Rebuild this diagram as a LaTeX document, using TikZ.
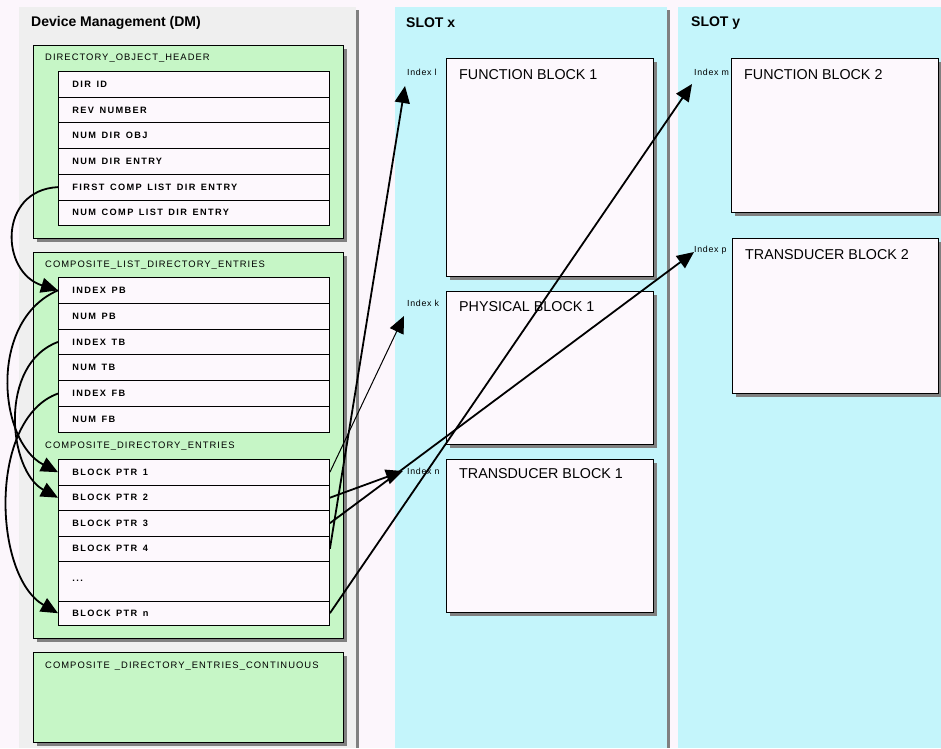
\documentclass[tikz,border=0pt]{standalone}
\usepackage{fontspec}
\setmainfont{Liberation Sans}
\newfontfamily\lblfont[LetterSpace=11,WordSpace=1.4]{Liberation Sans}
\newfontfamily\rowfont[LetterSpace=15]{Liberation Sans}
\newfontfamily\idxfont[LetterSpace=8]{Liberation Sans}
\newcommand\rowstyle{\rowfont\bfseries\fontsize{9.2}{10}\selectfont\spaceskip=5.5pt\relax}
\newcommand\rt[1]{\makebox[243pt][l]{#1}}
\usetikzlibrary{arrows.meta,shadows}
\definecolor{bgc}{HTML}{FCF6FC}
\definecolor{dmgray}{HTML}{EFEFEF}
\definecolor{cyanc}{HTML}{C4F5FB}
\definecolor{greenc}{HTML}{C6F6C6}
\definecolor{rowc}{HTML}{FDF8FD}
\definecolor{shc}{HTML}{808080}
\tikzset{
  shd/.style={drop shadow={shadow xshift=4pt, shadow yshift=-4pt, fill=shc, opacity=1}},
  gbox/.style={draw=black, line width=0.9pt, fill=greenc, shd, anchor=north west, minimum width=310pt, inner sep=0pt},
  blk/.style={draw=black, line width=0.9pt, fill=rowc, shd, anchor=north west, minimum width=207pt, inner sep=0pt},
  rowbox/.style={draw=black, line width=0.9pt, fill=rowc, anchor=north west, inner xsep=14pt, inner ysep=0pt, font=\rowstyle},
  gtitle/.style={anchor=west, inner sep=0pt, font=\lblfont\fontsize{9.4}{10}\selectfont},
  btitle/.style={anchor=west, inner sep=0pt, font=\fontsize{14.3}{16}\selectfont},
  ptitle/.style={anchor=west, inner sep=0pt, font=\bfseries\fontsize{14}{16}\selectfont},
  idx/.style={anchor=west, inner sep=0pt, font=\idxfont\fontsize{8.8}{10}\selectfont},
  thk/.style={line width=1.8pt, -{Triangle[length=17pt,width=15pt]}},
  thn/.style={line width=1pt, -{Triangle[length=17pt,width=15pt]}},
}
\begin{document}
\begin{tikzpicture}[x=1pt,y=-1pt]
\useasboundingbox (0,0) rectangle (941,748);
\fill[bgc] (0,0) rectangle (941,748);
% panels
\fill[shc] (22,10) rectangle (359,748);
\fill[dmgray] (19,7) rectangle (356,748);
\fill[shc] (398,10) rectangle (670,748);
\fill[cyanc] (395,7) rectangle (667,748);
\fill[cyanc] (678,7) rectangle (941,748);
\node[ptitle] (dmT) at (31,23) {Device Management (DM)};
\node[ptitle] (sxT) at (406,23) {SLOT x};
\node[ptitle] (syT) at (691,23) {SLOT y};
% green boxes
\node[gbox, minimum height=193pt] (doh) at (33,45) {};
\node[gtitle] (dohT) at (45,58.5) {DIRECTORY\_OBJECT\_HEADER};
\node[gbox, minimum height=386pt] (clde) at (33,252) {};
\node[gtitle] (cldeT) at (45,265) {COMPOSITE\_LIST\_DIRECTORY\_ENTRIES};
\node[gtitle] (cdeT) at (45,446) {COMPOSITE\_DIRECTORY\_ENTRIES};
\node[gbox, minimum height=90pt] (cdec) at (33,652) {};
\node[gtitle] (cdecT) at (45,666) {COMPOSITE \_DIRECTORY\_ENTRIES\_CONTINUOUS};
% header rows
\node[rowbox, minimum height=25.7pt] (dirid) at (58,71) {\rt{DIR ID}};
\node[rowbox, minimum height=25.7pt] (revnum) at (58,96.7) {\rt{REV NUMBER}};
\node[rowbox, minimum height=25.7pt] (numobj) at (58,122.4) {\rt{NUM DIR OBJ}};
\node[rowbox, minimum height=25.7pt] (nument) at (58,148.1) {\rt{NUM DIR ENTRY}};
\node[rowbox, minimum height=25.7pt] (firstcomp) at (58,173.8) {\rt{FIRST COMP LIST DIR ENTRY}};
\node[rowbox, minimum height=25.7pt] (numcomp) at (58,199.5) {\rt{NUM COMP LIST DIR ENTRY}};
% composite list rows
\node[rowbox, minimum height=25.8pt] (idxpb) at (58,277) {\rt{INDEX PB}};
\node[rowbox, minimum height=25.8pt] (numpb) at (58,302.8) {\rt{NUM PB}};
\node[rowbox, minimum height=25.8pt] (idxtb) at (58,328.6) {\rt{INDEX TB}};
\node[rowbox, minimum height=25.8pt] (numtb) at (58,354.4) {\rt{NUM TB}};
\node[rowbox, minimum height=25.8pt] (idxfb) at (58,380.2) {\rt{INDEX FB}};
\node[rowbox, minimum height=25.8pt] (numfb) at (58,406) {\rt{NUM FB}};
% block pointer rows
\node[rowbox, minimum height=25.5pt] (bp1) at (58,459) {\rt{BLOCK PTR 1}};
\node[rowbox, minimum height=25.5pt] (bp2) at (58,484.5) {\rt{BLOCK PTR 2}};
\node[rowbox, minimum height=25.5pt] (bp3) at (58,510) {\rt{BLOCK PTR 3}};
\node[rowbox, minimum height=25.5pt] (bp4) at (58,535.5) {\rt{BLOCK PTR 4}};
\node[rowbox, minimum height=39.5pt] (dots) at (58,561) {\rt{...}};
\node[rowbox, minimum height=24.5pt] (bpn) at (58,600.5) {\rt{BLOCK PTR n}};
% slot blocks
\node[blk, minimum height=218pt] (fb1) at (446,58) {};
\node[btitle] (fb1T) at (459,75) {FUNCTION BLOCK 1};
\node[blk, minimum height=153pt] (pb1) at (446,291) {};
\node[btitle] (pb1T) at (459,307) {PHYSICAL BLOCK 1};
\node[blk, minimum height=153pt] (tb1) at (446,459) {};
\node[btitle] (tb1T) at (459,474) {TRANSDUCER BLOCK 1};
\node[blk, minimum height=154pt] (fb2) at (731,58) {};
\node[btitle] (fb2T) at (744,75) {FUNCTION BLOCK 2};
\node[blk, minimum height=155pt, minimum width=206pt] (tb2) at (732,238) {};
\node[btitle] (tb2T) at (745,255) {TRANSDUCER BLOCK 2};
% index labels
\node[idx] (il) at (407,72) {Index l};
\node[idx] (ik) at (407,303) {Index k};
\node[idx] (in) at (407,471) {Index n};
\node[idx] (im) at (694,72) {Index m};
\node[idx] (ip) at (694,250) {Index p};
\coordinate (tipl) at (405,86);
\coordinate (tipk) at (404,316);
\coordinate (tipn) at (403,471);
\coordinate (tipm) at (692,84);
\coordinate (tipp) at (694,252);
% right connectors
\draw[thn] (bp1.east) -- (tipk);
\draw[thk] (bp2.east) -- (tipn);
\draw[thk] (bp3.east) -- (tipp);
\draw[thk] (bp4.east) -- (tipl);
\draw[thk] (bpn.east) -- (tipm);
% left connectors
\draw[thk] (firstcomp.west) .. controls +(-60,3) and +(-58,-18) .. (idxpb.west);
\draw[thk] (idxpb.west) .. controls +(-70,30) and +(-60,-31) .. (bp1.west);
\draw[thk] (idxtb.west) .. controls +(-60,22) and +(-50,-27) .. (bp2.west);
\draw[thk] (idxfb.west) .. controls +(-70,25) and +(-65,-37) .. (bpn.west);
\end{tikzpicture}
\end{document}
